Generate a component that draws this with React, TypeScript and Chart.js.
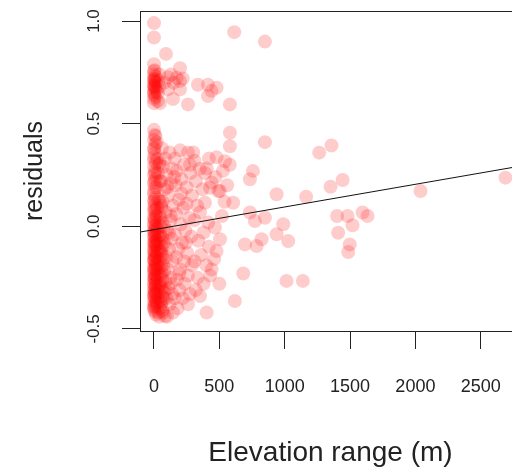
import { useEffect, useRef } from 'react';
import { Chart, registerables } from 'chart.js';

Chart.register(...registerables);

const xTicks = [0, 500, 1000, 1500, 2000, 2500];
const yTicks = [-0.5, 0, 0.5, 1.0];
const yTickLabels = ['-0.5', '0.0', '0.5', '1.0'];
const xLimits = [-107, 2808];
const yLimits = [-0.51, 1.049];
const xTitle = 'Elevation range (m)';
const yTitle = 'residuals';

// fitted line: [elevation range, residual]
const trendLine: [number, number][] = [[-107, -0.028], [2808, 0.294]];

// points: [elevation range (m), residual]
const upperCluster: [number, number][] = [
  [0, 0.99], [0, 0.92], [0, 0.79], [5, 0.76], [0, 0.74], [10, 0.73], [0, 0.72], [0, 0.71],
  [15, 0.7], [0, 0.69], [5, 0.68], [0, 0.67], [20, 0.66], [0, 0.65], [0, 0.64], [10, 0.63],
  [0, 0.62], [30, 0.61], [0, 0.6], [46, 0.6], [40, 0.74], [35, 0.71], [40, 0.68], [30, 0.65],
  [0, 0.755], [5, 0.705], [0, 0.685], [10, 0.675], [0, 0.655], [5, 0.715],
  [92, 0.84], [107, 0.726], [173, 0.724], [199, 0.77], [199, 0.708], [107, 0.667], [199, 0.667],
  [145, 0.62], [260, 0.594], [336, 0.69], [413, 0.69], [479, 0.675], [413, 0.635], [581, 0.594],
  [614, 0.946], [849, 0.9], [150, 0.7], [130, 0.74], [220, 0.72], [440, 0.66], [80, 0.7],
];

const zeroColumn: [number, number][] = [
  [0, 0.47], [5, 0.445], [0, 0.42], [10, 0.4], [0, 0.375], [5, 0.355], [0, 0.335], [15, 0.31],
  [0, 0.29], [5, 0.27], [0, 0.25], [10, 0.23], [0, 0.21], [5, 0.19], [0, 0.17], [0, 0.155],
  [10, 0.14], [0, 0.12], [5, 0.105], [0, 0.09], [0, 0.075], [10, 0.06], [0, 0.045], [5, 0.03],
  [0, 0.015], [0, 0.0], [10, -0.01], [0, -0.02], [5, -0.035], [0, -0.045], [0, -0.055], [10, -0.07],
  [0, -0.08], [5, -0.09], [0, -0.1], [0, -0.115], [10, -0.125], [0, -0.135], [5, -0.15], [0, -0.16],
  [0, -0.17], [10, -0.18], [0, -0.195], [5, -0.205], [0, -0.215], [0, -0.23], [10, -0.24], [0, -0.25],
  [5, -0.26], [0, -0.275], [0, -0.285], [10, -0.295], [0, -0.31], [5, -0.32], [0, -0.33], [0, -0.34],
  [10, -0.355], [0, -0.365], [5, -0.38], [0, -0.39], [0, -0.405],
];

const denseCore: [number, number][] = [
  [2, 0.13], [8, 0.08], [3, 0.035], [12, 0.005], [2, -0.025], [8, -0.05], [3, -0.075], [12, -0.095],
  [2, -0.12], [8, -0.145], [3, -0.165], [12, -0.19], [2, -0.21], [8, -0.235], [3, -0.255], [12, -0.28],
  [2, -0.3], [8, -0.325], [3, -0.345], [12, -0.37], [2, -0.395], [8, -0.415], [15, -0.43],
  [55, 0.1], [60, 0.02], [65, -0.06], [58, -0.1], [62, -0.14], [55, -0.2], [66, -0.26], [58, -0.3],
  [62, -0.34], [55, -0.38], [70, -0.42], [75, -0.08], [78, -0.22], [72, -0.35],
  [0, 0.32], [3, 0.22], [8, 0.26], [2, 0.38], [12, 0.44],
];

const nearZero: [number, number][] = [
  [20, 0.41], [25, 0.33], [30, 0.26], [20, 0.19], [35, 0.13], [25, 0.09], [20, 0.05], [30, 0.02],
  [25, -0.01], [20, -0.03], [35, -0.05], [25, -0.07], [20, -0.09], [30, -0.11], [25, -0.13], [20, -0.15],
  [35, -0.17], [25, -0.19], [20, -0.21], [30, -0.23], [25, -0.25], [20, -0.27], [35, -0.29], [25, -0.31],
  [20, -0.33], [30, -0.35], [25, -0.37], [20, -0.39], [35, -0.42], [45, 0.12], [40, 0.06], [50, 0.0],
  [45, -0.04], [40, -0.08], [50, -0.12], [45, -0.16], [40, -0.2], [50, -0.24], [45, -0.28], [40, -0.32],
  [50, -0.36], [45, -0.4], [40, -0.44], [45, 0.22], [40, 0.3],
];

const lowRange: [number, number][] = [
  [60, 0.38], [85, 0.33], [120, 0.36], [70, 0.29], [140, 0.28], [95, 0.25], [55, 0.22], [130, 0.21],
  [80, 0.18], [110, 0.15], [65, 0.12], [145, 0.1], [90, 0.07], [50, 0.04], [125, 0.03], [75, 0.0],
  [100, -0.02], [60, -0.05], [135, -0.06], [85, -0.09], [115, -0.11], [55, -0.13], [95, -0.15], [140, -0.17],
  [70, -0.19], [105, -0.21], [60, -0.23], [125, -0.25], [85, -0.27], [50, -0.29], [110, -0.3], [75, -0.32],
  [140, -0.33], [95, -0.35], [60, -0.37], [120, -0.38], [84, -0.437], [145, -0.42], [65, -0.41], [100, -0.44],
  [130, 0.05], [60, 0.09], [100, 0.19], [45, 0.31], [115, -0.03], [70, -0.16], [130, -0.28], [90, -0.31],
];

const midRange: [number, number][] = [
  [160, 0.33], [200, 0.37], [260, 0.36], [230, 0.3], [175, 0.27], [280, 0.26], [210, 0.23], [165, 0.2],
  [250, 0.19], [290, 0.15], [190, 0.13], [225, 0.09], [170, 0.06], [270, 0.04], [205, 0.01], [240, -0.02],
  [160, -0.04], [285, -0.05], [215, -0.08], [185, -0.11], [255, -0.13], [170, -0.15], [230, -0.17], [290, -0.19],
  [200, -0.21], [260, -0.24], [175, -0.26], [235, -0.28], [195, -0.31], [275, -0.33], [220, -0.35], [260, -0.38],
  [180, -0.4], [210, 0.16], [250, 0.11], [155, 0.24], [275, 0.3], [245, -0.08], [195, -0.23], [160, -0.35],
  [310, 0.32], [350, 0.28], [403, 0.282], [390, 0.26], [428, 0.188], [441, 0.213], [320, 0.22], [370, 0.18],
  [390, 0.115], [330, 0.1], [352, 0.068], [415, 0.018], [310, 0.03], [380, -0.03], [340, -0.07], [420, -0.1],
  [360, -0.14], [310, -0.17], [400, -0.19], [441, -0.21], [335, -0.25], [380, -0.28], [352, -0.34], [403, -0.42],
  [320, -0.31], [430, -0.24], [300, 0.36], [420, 0.33],
];

const highRange: [number, number][] = [
  [466, -0.006], [479, -0.12], [505, -0.063], [505, 0.172], [492, 0.172], [527, 0.27], [543, 0.317],
  [479, 0.336], [581, 0.456], [581, 0.39], [606, 0.115], [619, -0.364], [683, -0.23], [696, -0.088],
  [734, 0.067], [734, 0.229], [757, 0.27], [470, 0.24], [520, 0.05], [560, 0.2], [460, -0.16],
  [500, -0.28], [540, 0.12], [580, 0.3], [772, 0.026], [785, -0.096], [823, -0.063], [849, 0.042],
  [849, 0.41], [938, 0.156], [938, -0.039], [989, 0.01], [1014, -0.266], [1027, -0.072], [1139, -0.266],
  [1164, 0.144], [1264, 0.359], [1358, 0.394], [1351, 0.193], [1443, 0.226], [1401, 0.05], [1481, 0.05],
  [1519, 0.005], [1596, 0.067], [1634, 0.05], [1409, -0.031], [1498, -0.088], [1486, -0.125],
  [2039, 0.172], [2689, 0.237],
];

const FONT = "'Liberation Sans', Arial, Helvetica, sans-serif";
const INK = '#222';

export default function App() {
  const ref = useRef<HTMLCanvasElement>(null);

  useEffect(() => {
    const canvas = ref.current;
    if (!canvas) return;
    const allPoints = [
      ...upperCluster,
      ...zeroColumn,
      ...denseCore,
      ...nearZero,
      ...lowRange,
      ...midRange,
      ...highRange,
    ].map(([x, y]) => ({ x, y }));

    const boxPlugin = {
      id: 'rbox',
      afterDraw(chart: any) {
        const { ctx, chartArea } = chart;
        const ys = chart.scales.y;
        ctx.save();
        ctx.strokeStyle = INK;
        ctx.lineWidth = 1;
        ctx.strokeRect(
          Math.round(chartArea.left) + 0.5,
          Math.round(chartArea.top) + 0.5,
          Math.round(chartArea.right - chartArea.left),
          Math.round(chartArea.bottom - chartArea.top)
        );
        ctx.fillStyle = INK;
        ctx.font = `17px ${FONT}`;
        ctx.textAlign = 'center';
        ctx.textBaseline = 'middle';
        yTicks.forEach((v, i) => {
          const py = ys.getPixelForValue(v);
          ctx.save();
          ctx.translate(94, py);
          ctx.rotate(-Math.PI / 2);
          ctx.fillText(yTickLabels[i], 0, 0);
          ctx.restore();
        });
        ctx.restore();
      },
    };

    const chart = new Chart(canvas, {
      type: 'scatter',
      data: {
        datasets: [
          {
            type: 'line',
            data: trendLine.map(([x, y]) => ({ x, y })),
            borderColor: '#111',
            borderWidth: 1,
            pointRadius: 0,
            fill: false,
            order: 0,
          } as any,
          {
            data: allPoints,
            backgroundColor: 'rgba(255,0,0,0.2)',
            borderWidth: 0,
            pointRadius: 7,
            pointHoverRadius: 7,
            order: 1,
          },
        ],
      },
      options: {
        responsive: false,
        animation: false,
        devicePixelRatio: 1,
        events: [],
        layout: { padding: { top: 11, right: 9, left: 0, bottom: 0 } },
        plugins: { legend: { display: false }, tooltip: { enabled: false } },
        scales: {
          x: {
            type: 'linear',
            min: xLimits[0],
            max: xLimits[1],
            afterBuildTicks: (s: any) => {
              s.ticks = xTicks.map((v) => ({ value: v }));
            },
            afterFit: (s: any) => {
              s.height = 142;
            },
            grid: { drawOnChartArea: false, drawTicks: true, tickLength: 18, color: INK, lineWidth: 1 },
            border: { display: false },
            ticks: {
              padding: 27,
              maxRotation: 0,
              minRotation: 0,
              color: INK,
              font: { family: FONT, size: 18 },
              callback: (v: any) => String(v),
            },
            title: {
              display: true,
              text: xTitle,
              color: INK,
              font: { family: FONT, size: 28 },
              padding: { top: 0, bottom: 3 },
            },
          },
          y: {
            type: 'linear',
            min: yLimits[0],
            max: yLimits[1],
            afterBuildTicks: (s: any) => {
              s.ticks = yTicks.map((v) => ({ value: v }));
            },
            afterFit: (s: any) => {
              s.width = 140;
            },
            grid: { drawOnChartArea: false, drawTicks: true, tickLength: 18, color: INK, lineWidth: 1 },
            border: { display: false },
            ticks: { display: false },
            title: {
              display: true,
              text: yTitle,
              color: INK,
              font: { family: FONT, size: 25 },
              padding: { top: 20, bottom: 0 },
            },
          },
        },
      },
      plugins: [boxPlugin],
    });

    return () => chart.destroy();
  }, []);

  return (
    <div
      style={{
        position: 'absolute',
        left: 0,
        top: 0,
        width: 512,
        height: 473,
        overflow: 'hidden',
        background: '#fff',
      }}
    >
      <canvas ref={ref} width={530} height={473} style={{ display: 'block' }} />
    </div>
  );
}
